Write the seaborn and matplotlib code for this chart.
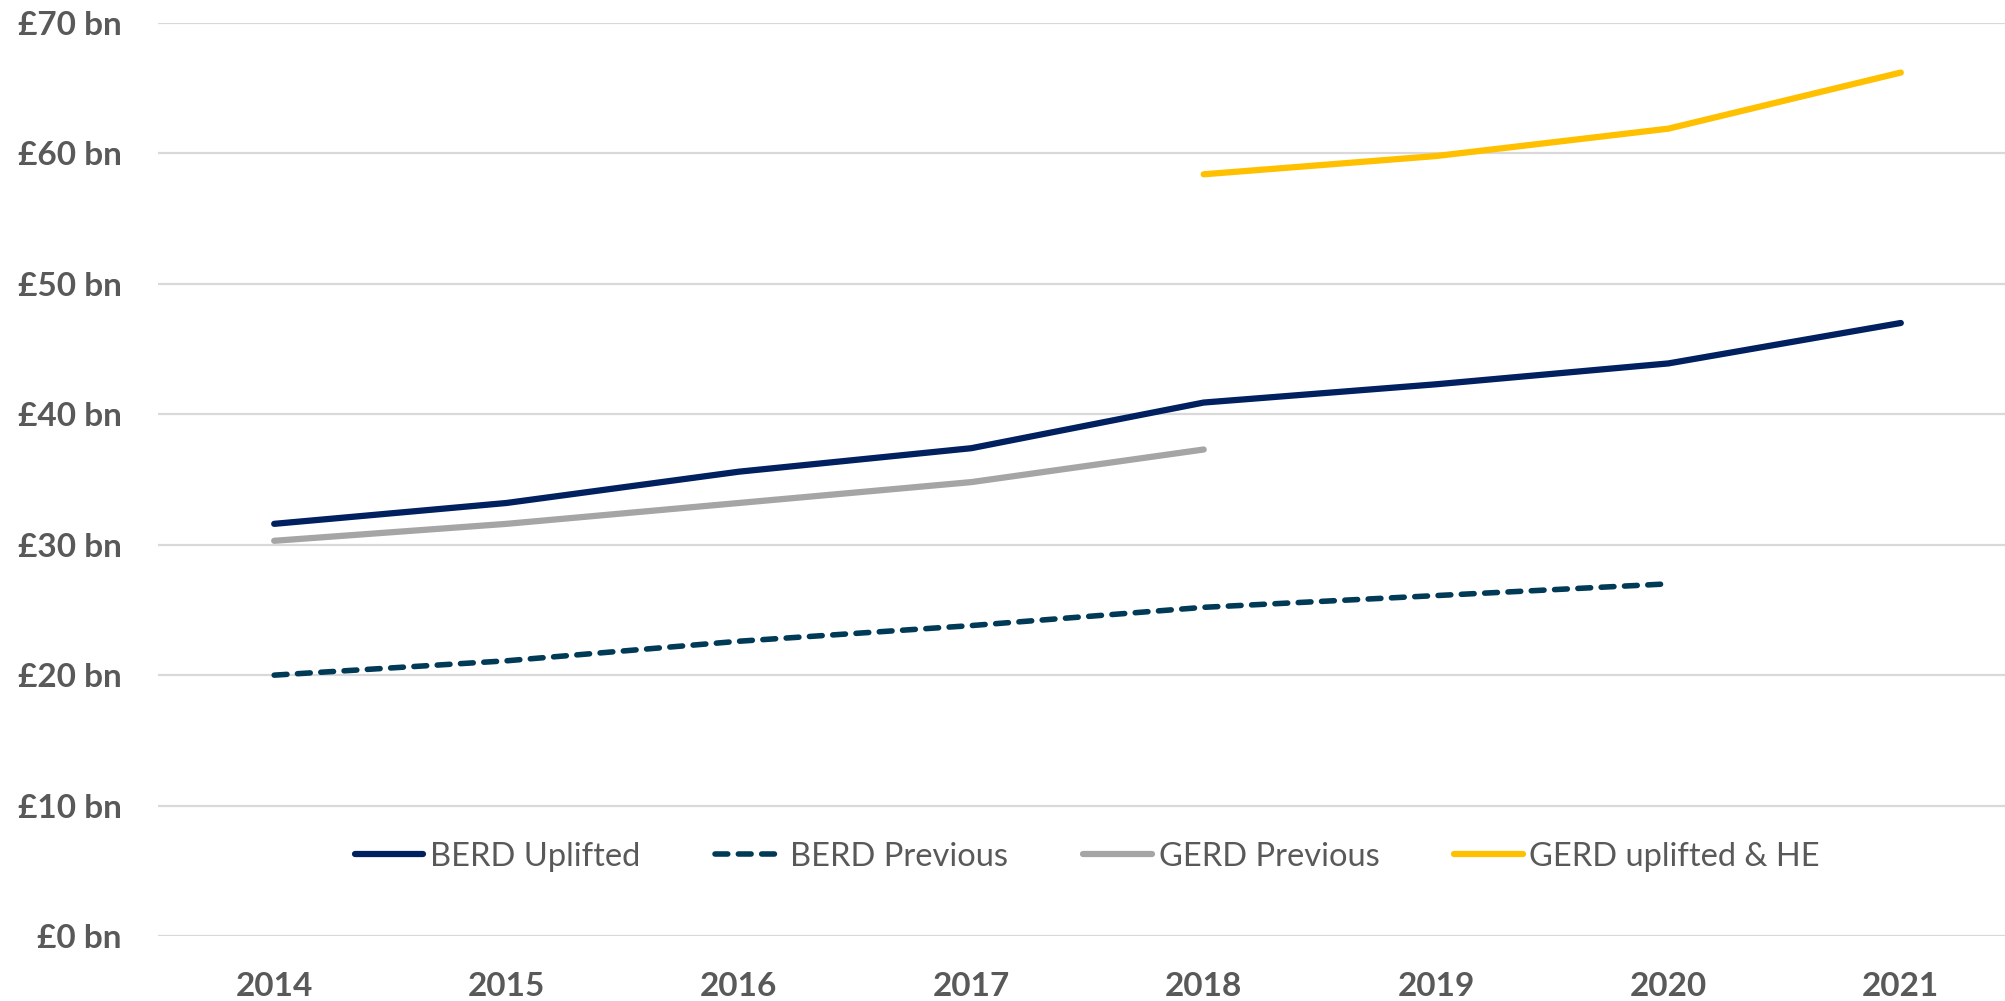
import matplotlib
matplotlib.use("Agg")
import matplotlib.pyplot as plt
import seaborn as sns

# Data (£ bn)
years = ["2014", "2015", "2016", "2017", "2018", "2019", "2020", "2021"]
berd_uplifted = [31.6, 33.2, 35.6, 37.4, 40.9, 42.3, 43.9, 47.0]
berd_previous = [20.0, 21.1, 22.6, 23.8, 25.2, 26.1, 27.0]
gerd_previous = [30.3, 31.6, 33.2, 34.8, 37.3]
gerd_uplifted_he = [58.4, 59.8, 61.9, 66.2]
yticks = [0, 10, 20, 30, 40, 50, 60, 70]

sns.set_theme(style="white")
plt.rcParams["font.family"] = ["Lato", "DejaVu Sans"]

grey_text = "#595959"

fig = plt.figure(figsize=(20.06, 10.01), dpi=100)
ax = fig.add_axes([158 / 2006, 65 / 1001, 1859 / 2006, 913 / 1001])

x_all = list(range(len(years)))
sns.lineplot(x=x_all, y=berd_uplifted, ax=ax, color="#002060", linewidth=4.5,
             label="BERD Uplifted")
sns.lineplot(x=x_all[:len(berd_previous)], y=berd_previous, ax=ax, color="#003A57",
             linewidth=4.0, label="BERD Previous")
dashed = ax.lines[-1]
dashed.set_dashes((2.3, 1.9))
dashed.set_dash_capstyle("round")
sns.lineplot(x=x_all[:len(gerd_previous)], y=gerd_previous, ax=ax, color="#A5A5A5",
             linewidth=4.5, label="GERD Previous")
sns.lineplot(x=x_all[4:4 + len(gerd_uplifted_he)], y=gerd_uplifted_he, ax=ax,
             color="#FFC000", linewidth=4.5, label="GERD uplifted & HE")

for ln in ax.lines:
    ln.set_solid_capstyle("round")

ax.set_xlim(-0.5, len(years) - 0.5)
ax.set_ylim(0, 70)
ax.set_xticks(x_all)
ax.set_xticklabels(years)
ax.set_yticks(yticks)
ax.set_yticklabels([f"£{v} bn" for v in yticks])
ax.tick_params(axis="both", length=0, labelsize=24, labelcolor=grey_text)
ax.tick_params(axis="y", pad=26)
ax.tick_params(axis="x", pad=26)
for lbl in ax.get_xticklabels() + ax.get_yticklabels():
    lbl.set_fontweight("bold")

ax.yaxis.grid(True, color="#D9D9D9", linewidth=1.6)
ax.xaxis.grid(False)
for s in ax.spines.values():
    s.set_visible(False)
ax.set_xlabel("")
ax.set_ylabel("")

leg = ax.legend(loc="center", bbox_to_anchor=(0.5, 0.087), ncol=4, frameon=False,
                fontsize=23.5, handlelength=2.1, handletextpad=0.2, columnspacing=2.3)
for t in leg.get_texts():
    t.set_color(grey_text)
leg.get_lines()[1].set_dash_capstyle("round")

fig.savefig("out.png", dpi=100)
